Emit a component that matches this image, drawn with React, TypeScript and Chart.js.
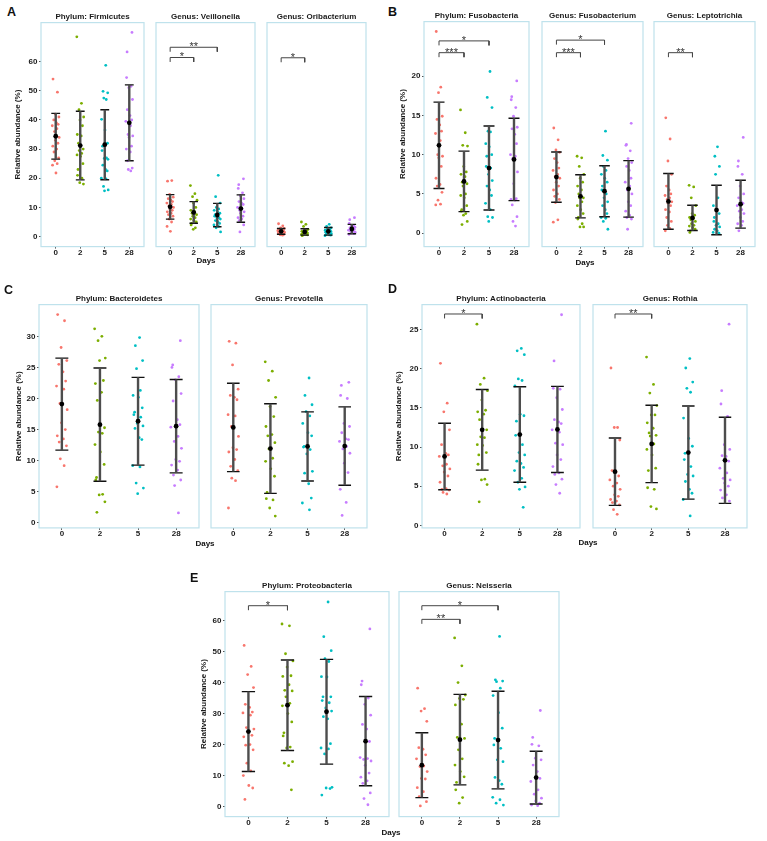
import React, { useEffect, useRef } from "react";
import { Chart, registerables } from "chart.js";
Chart.register(...registerables);

const FONT = "'Liberation Sans', Arial, Helvetica, sans-serif";
Chart.defaults.font.family = FONT;

// ---------------- data ----------------
const DAYS = ["0", "2", "5", "28"];
const DAY_COLORS = ["#F8766D", "#7CAE00", "#00BFC4", "#C77CFF"];
const JITTER = [-0.11, 0.07, -0.02, 0.13, -0.08, 0.03, 0.1, -0.14, 0.05, -0.05, 0.14, -0.01, 0.09, -0.12, 0.04, -0.07, 0.12, -0.04, 0.06, -0.13, 0.01, 0.11, -0.09];

const TICKS_A = [0, 10, 20, 30, 40, 50, 60];
const TICKS_B = [0, 5, 10, 15, 20];
const TICKS_C = [0, 5, 10, 15, 20, 25, 30];
const TICKS_D = [0, 5, 10, 15, 20, 25];
const TICKS_E = [0, 10, 20, 30, 40, 50, 60];

// Panel A
const FIRMICUTES = [
  [54, 49.5, 42, 41, 40, 39, 38.5, 38, 37, 36, 34, 33, 32, 31, 30, 29, 27, 26, 25, 24.5, 21.8],
  [68.5, 45.7, 43.5, 41, 40, 38, 35, 34.5, 32, 30, 29.5, 28.5, 28, 27.5, 25, 23, 21, 20, 18.5, 18],
  [58.7, 49.8, 49.3, 47.5, 47, 40.2, 36.5, 32, 31, 29.5, 27, 26.8, 26.5, 24.5, 23, 22.5, 20, 19.8, 17.2, 16, 15.7],
  [70, 63.3, 54.5, 51.5, 51, 47, 43.5, 41.5, 40, 39.5, 38, 35, 34.5, 34, 31, 30, 29, 26, 23.5, 23, 22.5],
];
const FIRMICUTES_MEAN = [34.4, 31.2, 31.5, 39.0];
const FIRMICUTES_SD = [7.85, 11.75, 12.0, 13.0];

const VEILLONELLA = [
  [19, 19.2, 14.5, 13.5, 13, 12.5, 12, 11.5, 11, 10.5, 10, 9.5, 9, 8.5, 8, 7.5, 7, 6, 5, 3.5, 1.8],
  [17.5, 14.7, 13.7, 12.5, 11.5, 10, 9, 8.5, 8, 7.5, 7, 6.5, 6, 5.5, 5, 4.5, 4, 3, 2.5],
  [21, 13.7, 11.5, 10, 9.5, 9, 8.5, 8, 7.5, 7, 6.5, 6.5, 6, 5.5, 5, 4.5, 4, 3.5, 3, 1.6],
  [19.8, 17.8, 16.5, 15, 14, 13, 12, 11.5, 11, 10, 9.5, 9, 8.5, 8, 7, 6.5, 6, 5.5, 4, 1.6],
];
const VEILLONELLA_MEAN = [10.2, 8.3, 7.4, 9.6];
const VEILLONELLA_SD = [4.2, 3.7, 4.0, 4.7];
const VEILLONELLA_SIG: [number, number, number, string][] = [[0, 1, 61.4, "*"], [0, 2, 64.9, "**"]];

const ORIBACTERIUM = [
  [4.4, 3.7, 3, 2.8, 2.5, 2.2, 2, 2, 1.8, 1.7, 1.5, 1.5, 1.2, 1.2, 1, 0.9, 0.8, 0.6, 0.5],
  [5, 4.2, 3.5, 2.5, 2.2, 2, 1.8, 1.5, 1.3, 1.2, 1, 1, 0.8, 0.7, 0.6, 0.5, 0.3],
  [4.2, 3.5, 3, 2.6, 2.5, 2.2, 2, 1.8, 1.6, 1.5, 1.2, 1.1, 1, 0.8, 0.6, 0.5, 0.3],
  [6.5, 5.8, 4.5, 3.8, 3.5, 3.2, 3, 2.7, 2.5, 2.2, 2, 1.8, 1.5, 1.2, 1, 0.8],
];
const ORIBACTERIUM_MEAN = [1.8, 1.6, 1.8, 2.6];
const ORIBACTERIUM_SD = [1.0, 1.1, 1.3, 1.6];
const ORIBACTERIUM_SIG: [number, number, number, string][] = [[0, 1, 61.3, "*"]];

// Panel B
const FUSOBACTERIA = [
  [25.7, 18.6, 17.9, 14.9, 14.5, 13.8, 13, 12.7, 11.8, 10, 9.8, 9.6, 8.5, 7, 6.2, 6, 5.2, 4.2, 3.7, 3.6],
  [15.7, 12.8, 11.2, 11.1, 8.5, 7.8, 7.5, 7.2, 6.5, 6.3, 6, 5, 4.8, 4.5, 3.5, 3, 2.8, 2.5, 2.3, 1.5, 1.1],
  [20.6, 17.3, 16, 13, 12.9, 11.4, 11, 10, 9.8, 8.5, 8.3, 7.5, 6.7, 6, 5.5, 4.8, 3.8, 3, 2.1, 2, 1.5],
  [19.4, 17.4, 17, 16, 14.9, 13.5, 13.3, 12.6, 11.4, 10, 9.8, 9.5, 7.8, 6.3, 4.4, 4.3, 4.2, 3.6, 2.1, 1.5, 0.9],
];
const FUSOBACTERIA_MEAN = [11.2, 6.6, 8.3, 9.4];
const FUSOBACTERIA_SD = [5.5, 3.85, 5.35, 5.25];
const FUSOBACTERIA_SIG: [number, number, number, string][] = [[0, 1, 23.0, "***"], [0, 2, 24.5, "*"]];

const FUSOBACTERIUM = [
  [13.4, 11.9, 10.6, 10.3, 9.5, 9, 8.3, 8, 7.5, 7.2, 7, 6.5, 6, 5.5, 5, 4.7, 4.3, 3.9, 1.7, 1.4],
  [9.8, 9.6, 8.5, 7.5, 7, 6.5, 6, 5.5, 5, 4.5, 4.5, 4, 3.5, 3, 2.5, 2, 1.8, 1.2, 0.8, 0.8],
  [13, 9.9, 9.3, 8.5, 8, 7.5, 7, 6.5, 6, 5.5, 5, 4.5, 4, 3.5, 3, 2.5, 2, 1.9, 1.5, 0.5],
  [14, 11.3, 11.2, 10.5, 9.5, 9, 8.5, 8, 7, 6.5, 6, 5.5, 5, 4, 3.5, 2.8, 2.3, 2.0, 1.8, 0.5],
];
const FUSOBACTERIUM_MEAN = [7.15, 4.7, 5.35, 5.65];
const FUSOBACTERIUM_SD = [3.2, 2.75, 3.25, 3.6];
const FUSOBACTERIUM_SIG: [number, number, number, string][] = [[0, 1, 23.0, "***"], [0, 2, 24.6, "*"]];

const LEPTOTRICHIA = [
  [14.7, 12.0, 9.2, 7.5, 6, 5.5, 5, 4.8, 4.5, 4.3, 4, 3.8, 3.5, 3, 2.7, 2, 1.5, 1, 0.6, 0.3],
  [6.1, 5.9, 4.5, 3.5, 2.5, 2.3, 2, 1.9, 1.7, 1.5, 1.2, 1, 0.9, 0.7, 0.5, 0.3, 0.1],
  [11.0, 9.8, 8.5, 7.5, 4.5, 3.5, 3, 2.5, 2, 1.5, 1.2, 1, 0.8, 0.5, 0.3, 0, 0.1],
  [12.2, 9.2, 8.5, 7.5, 6, 5, 4.5, 4, 3.8, 3.5, 3, 2.8, 2.5, 2, 1.5, 1.2, 1, 0.3],
];
const LEPTOTRICHIA_MEAN = [4.05, 1.95, 2.95, 3.7];
const LEPTOTRICHIA_SD = [3.55, 1.6, 3.15, 3.05];
const LEPTOTRICHIA_SIG: [number, number, number, string][] = [[0, 1, 23.0, "**"]];

// Panel C
const BACTEROIDETES = [
  [33.5, 32.5, 28.2, 26.1, 25.5, 24.3, 22.8, 22, 21.5, 19.2, 18.2, 16.1, 15, 14, 13.5, 13, 12.4, 10.3, 9.2, 5.8],
  [31.2, 30, 29.3, 26.5, 26.1, 22.9, 22.4, 21, 19.7, 15.3, 14.6, 14.4, 12.6, 11.4, 9.4, 7.3, 6.9, 4.6, 4.5, 3.4, 1.7],
  [29.8, 28.5, 26.1, 24.8, 21.3, 20.5, 20.2, 18.5, 17.8, 17.4, 17, 16, 15.6, 15.2, 13.7, 13.4, 9.2, 9, 6.4, 5.6, 4.7],
  [29.3, 25.4, 25, 23.5, 23, 20.8, 19.6, 16.6, 15.8, 15.4, 13.9, 13.1, 12, 10.2, 9.9, 9.3, 8.5, 7.7, 6.9, 6, 1.6],
];
const BACTEROIDETES_MEAN = [19.1, 15.8, 16.35, 15.55];
const BACTEROIDETES_SD = [7.4, 9.1, 7.05, 7.5];

const PREVOTELLA = [
  [29.2, 28.9, 25.4, 21.5, 20.5, 20.2, 19.8, 17.4, 17.2, 15.5, 13.9, 12.1, 11.8, 11.4, 10.2, 9.1, 8.4, 7.2, 6.8, 2.4],
  [25.9, 24.4, 22.9, 20.2, 18.7, 17.1, 15.5, 14.2, 14.0, 12.9, 11.9, 10.4, 9.9, 8.7, 7.5, 4.9, 3.9, 3.7, 2.4, 1.1],
  [23.3, 20.5, 19.0, 17.9, 17.2, 16.0, 14.5, 14.0, 12.3, 12.2, 11.8, 11.1, 8.3, 8.0, 6.3, 4.0, 3.2, 2.1],
  [22.6, 22.1, 20.5, 20.0, 16.0, 15.5, 14.5, 13.5, 13.4, 13.1, 12.3, 11.9, 11.2, 9.6, 8.1, 5.4, 3.3, 1.2],
];
const PREVOTELLA_MEAN = [15.35, 11.95, 12.3, 12.35];
const PREVOTELLA_SD = [7.1, 7.2, 5.55, 6.3];

// Panel D
const ACTINOBACTERIA = [
  [20.7, 15.6, 14.5, 12.2, 10.3, 9.2, 9, 8.8, 7.8, 7.6, 7.2, 6.8, 6.3, 5.5, 4.7, 4.6, 4.5, 4.2, 4.0],
  [25.7, 18.8, 18, 17.2, 16, 14.7, 14.5, 14.2, 13.5, 12.2, 11.3, 11.2, 10.3, 10.2, 9.3, 9, 7.8, 5.9, 5.8, 5.2, 3.0],
  [22.6, 22.3, 21.8, 18.7, 18.5, 17.8, 14.2, 14, 13.3, 11.5, 10.3, 9.3, 9, 8.2, 7.9, 7.4, 7, 6, 5.5, 4.9, 4.6, 2.3],
  [26.9, 21, 17.5, 17.4, 16.3, 14.8, 13.5, 13.2, 13, 12.2, 11.9, 10.5, 10.3, 9, 8.4, 7.5, 6.7, 6.5, 5.9, 5.2, 4.1],
];
const ACTINOBACTERIA_MEAN = [8.8, 12.2, 11.6, 12.25];
const ACTINOBACTERIA_SD = [4.25, 5.15, 6.1, 5.5];
const ACTINOBACTERIA_SIG: [number, number, number, string][] = [[0, 1, 27.0, "*"]];

const ROTHIA = [
  [20.1, 12.5, 12.5, 10.9, 7.0, 6.8, 6.3, 5.8, 5.4, 5.0, 4.6, 3.9, 3.7, 3.3, 3.1, 2.9, 2.6, 2.0, 1.4],
  [21.5, 18.0, 16.9, 15.3, 14.1, 14.1, 13.1, 12.4, 11.8, 11.5, 11.4, 10.4, 9.7, 9.0, 7.3, 7.0, 4.8, 4.6, 2.4, 2.1],
  [21.3, 20.1, 18.3, 17.5, 17.0, 13.7, 11.1, 10.1, 9.2, 8.4, 7.5, 6.5, 6.3, 5.6, 4.6, 4.1, 3.3, 1.2],
  [25.7, 17.2, 15.5, 13.9, 10.3, 9.7, 8.9, 8.8, 8.2, 7.3, 6.7, 6.0, 5.8, 5.4, 5.0, 4.5, 3.9, 3.5, 3.1],
];
const ROTHIA_MEAN = [6.85, 10.4, 9.3, 8.3];
const ROTHIA_SD = [4.3, 4.95, 5.95, 5.5];
const ROTHIA_SIG: [number, number, number, string][] = [[0, 1, 27.0, "**"]];

// Panel E
const PROTEOBACTERIA = [
  [52, 45.2, 42.6, 38.4, 33, 32, 30.5, 30.2, 29.5, 25.5, 25, 24, 23, 22.5, 20, 19.8, 18.3, 14, 11.5, 10, 6.8, 6, 2.3],
  [58.9, 58.3, 49.3, 47, 45, 42.2, 42, 39.3, 37.5, 37.3, 35.4, 33.3, 32.5, 30, 27.3, 23.8, 22.8, 19.2, 18.9, 14.5, 14, 13.2, 5.4],
  [66, 54.8, 50.3, 47.7, 46.8, 41.9, 41.8, 35.4, 35.4, 34.2, 33.5, 31.8, 30.8, 29, 28.3, 20.3, 18.9, 18.6, 17, 6.2, 6, 5.8, 3.7],
  [57.3, 40.5, 39.3, 35, 33, 29.5, 26.5, 25, 21, 15.8, 15.5, 15.2, 14.7, 13.3, 10.8, 9.5, 8.3, 7.5, 4.4, 2.6, 0.6],
];
const PROTEOBACTERIA_MEAN = [24.2, 32.7, 30.6, 21.1];
const PROTEOBACTERIA_SD = [12.9, 14.6, 16.9, 14.4];
const PROTEOBACTERIA_SIG: [number, number, number, string][] = [[0, 1, 64.8, "*"]];

const NEISSERIA = [
  [38.2, 31.6, 30.8, 27.5, 19.0, 18.5, 16.7, 15.4, 13.1, 12.9, 11.3, 9.1, 8.9, 6.1, 4.8, 3.2, 1.6, 0.2],
  [54.4, 45.4, 40.0, 36.0, 34.9, 34.6, 32.8, 26.6, 22.3, 22.0, 18.3, 15.4, 13.4, 11.3, 9.6, 7.8, 5.4, 2.9, 1.1],
  [54.9, 40.9, 40.5, 40.3, 38.2, 35.8, 30.3, 25.3, 22.0, 19.9, 18.8, 15.1, 14.5, 9.4, 8.4, 7.2, 3.0, 2.2, 1.1, 0.5],
  [31.0, 22.3, 20.1, 19.6, 15.6, 15.1, 13.4, 11.3, 9.1, 8.1, 5.4, 4.0, 2.7, 1.8, 1.1, 0.5, 0.3],
];
const NEISSERIA_MEAN = [13.35, 21.6, 21.45, 9.35];
const NEISSERIA_SD = [10.45, 14.6, 15.75, 8.5];
const NEISSERIA_SIG: [number, number, number, string][] = [[0, 1, 60.4, "**"], [0, 2, 64.8, "*"]];

// ---------------- layout ----------------
type Sig = [number, number, number, string];
interface Facet { title: string; groups: number[][]; mean: number[]; sd: number[]; sig: Sig[]; }
interface Panel {
  letter: string; letterX: number; letterBase: number;
  boxTop: number; boxH: number; boxW: number; lefts: number[];
  yMin: number; yMax: number; yTicks: number[]; yTitleX: number;
  cap: number; daysX: number; daysBase: number; facets: Facet[];
}

const TITLE_H = 10.6;
const Y_AXIS_W = 38;
const TEXT = "#1a1a1a";
const BOX = "#bfe2ec";

const PANELS: Panel[] = [
  {
    letter: "A", letterX: 7, letterBase: 17, boxTop: 22.7, boxH: 224, boxW: 107, lefts: [40.7, 151.7, 262.7],
    yMin: -3.43, yMax: 73.36, yTicks: TICKS_A, yTitleX: 17, cap: 0.18, daysX: 206, daysBase: 264,
    facets: [
      { title: "Phylum: Firmicutes", groups: FIRMICUTES, mean: FIRMICUTES_MEAN, sd: FIRMICUTES_SD, sig: [] },
      { title: "Genus: Veillonella", groups: VEILLONELLA, mean: VEILLONELLA_MEAN, sd: VEILLONELLA_SD, sig: VEILLONELLA_SIG },
      { title: "Genus: Oribacterium", groups: ORIBACTERIUM, mean: ORIBACTERIUM_MEAN, sd: ORIBACTERIUM_SD, sig: ORIBACTERIUM_SIG },
    ],
  },
  {
    letter: "B", letterX: 388, letterBase: 17, boxTop: 21.7, boxH: 225, boxW: 108.5, lefts: [424, 537.5, 650],
    yMin: -1.71, yMax: 26.96, yTicks: TICKS_B, yTitleX: 402.8, cap: 0.22, daysX: 585, daysBase: 265.5,
    facets: [
      { title: "Phylum: Fusobacteria", groups: FUSOBACTERIA, mean: FUSOBACTERIA_MEAN, sd: FUSOBACTERIA_SD, sig: FUSOBACTERIA_SIG },
      { title: "Genus: Fusobacterium", groups: FUSOBACTERIUM, mean: FUSOBACTERIUM_MEAN, sd: FUSOBACTERIUM_SD, sig: FUSOBACTERIUM_SIG },
      { title: "Genus: Leptotrichia", groups: LEPTOTRICHIA, mean: LEPTOTRICHIA_MEAN, sd: LEPTOTRICHIA_SD, sig: LEPTOTRICHIA_SIG },
    ],
  },
  {
    letter: "C", letterX: 4, letterBase: 294.5, boxTop: 305, boxH: 223.3, boxW: 163.5, lefts: [38.7, 207],
    yMin: -0.8, yMax: 35.1, yTicks: TICKS_C, yTitleX: 18.7, cap: 0.17, daysX: 205, daysBase: 547,
    facets: [
      { title: "Phylum: Bacteroidetes", groups: BACTEROIDETES, mean: BACTEROIDETES_MEAN, sd: BACTEROIDETES_SD, sig: [] },
      { title: "Genus: Prevotella", groups: PREVOTELLA, mean: PREVOTELLA_MEAN, sd: PREVOTELLA_SD, sig: [] },
    ],
  },
  {
    letter: "D", letterX: 388, letterBase: 293.5, boxTop: 305, boxH: 223.3, boxW: 162, lefts: [422.3, 588.5],
    yMin: -0.33, yMax: 28.2, yTicks: TICKS_D, yTitleX: 399.2, cap: 0.17, daysX: 588, daysBase: 546,
    facets: [
      { title: "Phylum: Actinobacteria", groups: ACTINOBACTERIA, mean: ACTINOBACTERIA_MEAN, sd: ACTINOBACTERIA_SD, sig: ACTINOBACTERIA_SIG },
      { title: "Genus: Rothia", groups: ROTHIA, mean: ROTHIA_MEAN, sd: ROTHIA_SD, sig: ROTHIA_SIG },
    ],
  },
  {
    letter: "E", letterX: 190, letterBase: 582.5, boxTop: 591.7, boxH: 225, boxW: 167.5, lefts: [224.7, 395],
    yMin: -3.23, yMax: 69.35, yTicks: TICKS_E, yTitleX: 203.7, cap: 0.17, daysX: 391, daysBase: 836,
    facets: [
      { title: "Phylum: Proteobacteria", groups: PROTEOBACTERIA, mean: PROTEOBACTERIA_MEAN, sd: PROTEOBACTERIA_SD, sig: PROTEOBACTERIA_SIG },
      { title: "Genus: Neisseria", groups: NEISSERIA, mean: NEISSERIA_MEAN, sd: NEISSERIA_SD, sig: NEISSERIA_SIG },
    ],
  },
];

function FacetChart({ p, idx }: { p: Panel; idx: number }) {
  const ref = useRef<HTMLCanvasElement>(null);
  const f = p.facets[idx];
  const showY = idx === 0;
  const leftW = showY ? Y_AXIS_W : 0;
  const left = p.lefts[idx] - leftW;
  const top = p.boxTop - TITLE_H;
  const w = Math.round(p.boxW + leftW);
  const h = Math.round(TITLE_H + p.boxH + 16);
  const xH = h - TITLE_H - p.boxH;

  useEffect(() => {
    if (!ref.current) return;
    const range = p.yMax - p.yMin;
    const tip = 0.02 * range;
    const datasets: any[] = [];
    datasets.push({
      data: f.mean.map((m, g) => ({ x: g, y: m })),
      pointRadius: 2.4, pointBackgroundColor: "#000", pointBorderWidth: 0, showLine: false, order: 0,
    });
    f.mean.forEach((m, g) => {
      const lo = m - f.sd[g];
      const hi = m + f.sd[g];
      const line = { showLine: true, pointRadius: 0, borderCapStyle: "butt", tension: 0, fill: false, order: 1 };
      datasets.push({ ...line, data: [{ x: g, y: lo }, { x: g, y: hi }], borderColor: "#4d4d4d", borderWidth: 2.4 });
      datasets.push({ ...line, data: [{ x: g - p.cap, y: hi }, { x: g + p.cap, y: hi }], borderColor: "#111", borderWidth: 1.4 });
      datasets.push({ ...line, data: [{ x: g - p.cap, y: lo }, { x: g + p.cap, y: lo }], borderColor: "#111", borderWidth: 1.4 });
    });
    f.sig.forEach(([a, b, y]) => {
      datasets.push({
        showLine: true, pointRadius: 0, tension: 0, fill: false, order: 1,
        data: [{ x: a, y: y - tip }, { x: a, y }, { x: b, y }, { x: b, y: y - tip }],
        borderColor: "#444", borderWidth: 1,
      });
    });
    f.groups.forEach((vals, g) => {
      datasets.push({
        data: vals.map((v, i) => ({ x: g + JITTER[(i + g * 7) % JITTER.length], y: v })),
        pointRadius: 1.4, pointBackgroundColor: DAY_COLORS[g], pointBorderWidth: 0, showLine: false, order: 5,
      });
    });

    const decor = {
      id: "decor",
      afterDatasetsDraw(chart: any) {
        const { ctx, chartArea, scales } = chart;
        ctx.save();
        ctx.font = `11px ${FONT}`;
        ctx.fillStyle = "#333";
        ctx.textAlign = "center";
        ctx.textBaseline = "alphabetic";
        f.sig.forEach(([a, b, y, lab]) => {
          const x = scales.x.getPixelForValue((a + b) / 2);
          const py = scales.y.getPixelForValue(y);
          ctx.fillText(lab, x, py + 3);
        });
        ctx.strokeStyle = BOX;
        ctx.lineWidth = 1.2;
        ctx.strokeRect(chartArea.left, chartArea.top, chartArea.right - chartArea.left, chartArea.bottom - chartArea.top);
        ctx.restore();
      },
    };

    const chart = new Chart(ref.current, {
      type: "scatter",
      data: { datasets },
      options: {
        animation: false,
        responsive: false,
        events: [],
        layout: { padding: 0 },
        plugins: {
          legend: { display: false },
          tooltip: { enabled: false },
          title: {
            display: true, text: f.title, color: TEXT, fullSize: false,
            font: { size: 8, weight: "bold", family: FONT, lineHeight: 1.2 },
            padding: { top: 0, bottom: 1 },
          },
        },
        scales: {
          x: {
            type: "linear", min: -0.6, max: 3.6,
            afterBuildTicks: (s: any) => { s.ticks = [0, 1, 2, 3].map((v) => ({ value: v })); },
            afterFit: (s: any) => { s.height = xH; },
            ticks: {
              callback: (v: any) => DAYS[Math.round(Number(v))],
              font: { size: 8, weight: "bold", family: FONT, lineHeight: 1 }, color: TEXT,
              padding: 0, maxRotation: 0, autoSkip: false,
            },
            grid: { display: true, drawOnChartArea: false, drawTicks: true, tickLength: 2, color: "#555" },
            border: { display: false },
          },
          y: {
            type: "linear", display: showY, min: p.yMin, max: p.yMax,
            afterBuildTicks: (s: any) => { s.ticks = p.yTicks.map((v) => ({ value: v })); },
            afterFit: (s: any) => { s.width = leftW; },
            ticks: { font: { size: 8, weight: "bold", family: FONT }, color: TEXT, padding: 1.5, autoSkip: false },
            grid: { display: true, drawOnChartArea: false, drawTicks: true, tickLength: 2, color: "#555" },
            border: { display: false },
            title: {
              display: showY, text: "Relative abundance (%)", color: TEXT,
              font: { size: 8, weight: "bold", family: FONT, lineHeight: 1.2 },
              padding: { top: p.yTitleX - left - 4.8, bottom: 0 },
            },
          },
        },
      } as any,
      plugins: [decor],
    });
    return () => chart.destroy();
  }, []);

  return (
    <div style={{ position: "absolute", left, top, width: w, height: h }}>
      <canvas ref={ref} width={w} height={h} style={{ display: "block", width: w, height: h }} />
    </div>
  );
}

export default function App() {
  const txt = (extra: React.CSSProperties): React.CSSProperties => ({
    position: "absolute", fontFamily: FONT, fontWeight: "bold", color: "#111", whiteSpace: "nowrap", ...extra,
  });
  return (
    <div style={{ position: "absolute", left: 0, top: 0, width: 767, height: 841, background: "#fff", overflow: "hidden" }}>
      {PANELS.map((p) => (
        <React.Fragment key={p.letter}>
          <div style={txt({ left: p.letterX, top: p.letterBase - 10.6, fontSize: 12.5, lineHeight: "12.5px" })}>{p.letter}</div>
          {p.facets.map((_, i) => <FacetChart key={i} p={p} idx={i} />)}
          <div style={txt({ left: p.daysX - 30, width: 60, textAlign: "center", top: p.daysBase - 6.8, fontSize: 8, lineHeight: "8px" })}>Days</div>
        </React.Fragment>
      ))}
    </div>
  );
}
